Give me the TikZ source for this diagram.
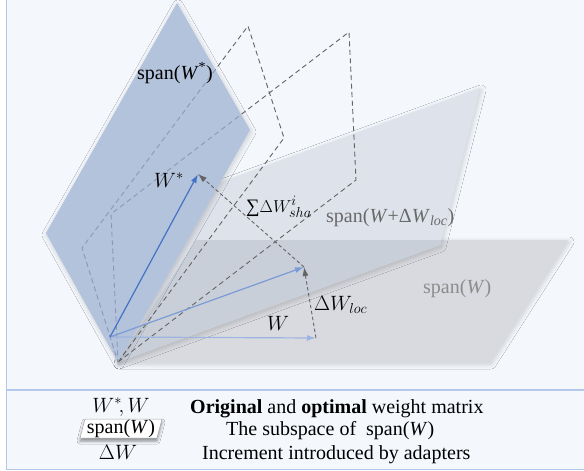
\documentclass[tikz,border=0pt]{standalone}
\usepackage{fontspec}
\setmainfont{Liberation Serif}
\newfontfamily\tnr{Liberation Serif}
\usetikzlibrary{arrows.meta,shadows.blur}
\definecolor{bgc}{RGB}{244,248,253}
\definecolor{framec}{RGB}{180,200,236}
\definecolor{bluep}{RGB}{180,195,220}
\definecolor{greyw}{RGB}{216,218,223}
\definecolor{greyl}{RGB}{222,226,234}
\definecolor{greyo}{RGB}{201,207,217}
\definecolor{dashc}{RGB}{100,100,100}
\definecolor{dashin}{RGB}{140,152,174}
\definecolor{vecA}{RGB}{68,114,196}
\definecolor{vecB}{RGB}{123,155,214}
\definecolor{vecC}{RGB}{157,181,224}
\definecolor{txtg}{RGB}{105,105,105}
\definecolor{txtl}{RGB}{140,140,140}
\begin{document}
\begin{tikzpicture}[x=1pt,y=-1pt,
  lbl/.style={inner sep=0pt, anchor=base west, font=\tnr\fontsize{20}{23}\selectfont},
  lblc/.style={inner sep=0pt, anchor=base, font=\tnr\fontsize{20}{23}\selectfont},
  mlbl/.style={inner sep=0pt, anchor=base west, font=\tnr\fontsize{21}{24}\selectfont},
  mlblc/.style={inner sep=0pt, anchor=base, font=\tnr\fontsize{20}{23}\selectfont},
  softshadow/.style={blur shadow={shadow xshift=1pt, shadow yshift=-2pt, shadow blur radius=5pt, shadow blur steps=8, shadow opacity=18}},
  dplane/.style={draw=dashc, dash pattern=on 5pt off 3.5pt, line width=0.9pt},
  vec/.style={line width=1.2pt, -{Latex[length=9pt,width=6pt]}},
  dvec/.style={draw=dashc, dash pattern=on 3.5pt off 2.5pt, line width=0.9pt, -{Latex[length=9pt,width=6pt]}}
]
\useasboundingbox (0,0) rectangle (584,471);
\fill[white] (0,0) rectangle (584,471);
\fill[bgc] (6.5,0) rectangle (584,469.5);
\draw[framec, line width=1.2pt] (6.5,0) -- (6.5,469.5) -- (584,469.5);
\draw[framec, line width=1.2pt] (6.5,390) -- (584,390);

% key points
\coordinate (O) at (118,362);
\coordinate (S) at (110,337);
\coordinate (A) at (198,174);
\coordinate (B) at (304,267);
\coordinate (C) at (316,338);

% span(W) plane
\fill[greyw, softshadow] (O) -- (196,240) -- (568,240) -- (490,362) -- cycle;
% span(W + dW) plane
\fill[greyl, softshadow] (O) -- (158,205) -- (480,88) -- (440,245) -- cycle;
\begin{scope}
  \clip (O) -- (196,240) -- (568,240) -- (490,362) -- cycle;
  \fill[greyo] (O) -- (158,205) -- (480,88) -- (440,245) -- cycle;
\end{scope}

% dashed planes
\draw[dplane] (O) -- (284,138) -- (248,26) -- (82,248) -- cycle;
\draw[dplane] (O) -- (356,180) -- (349,32) -- (111,214) -- cycle;

% blue plane span(W*)
\fill[bluep, softshadow] (177,3) -- (250,130) -- (O) -- (46,233) -- cycle;
\begin{scope}
  \clip (177,3) -- (250,130) -- (O) -- (46,233) -- cycle;
  \draw[dplane, draw=dashin] (O) -- (284,138) -- (248,26) -- (82,248) -- cycle;
  \draw[dplane, draw=dashin] (O) -- (356,180) -- (349,32) -- (111,214) -- cycle;
\end{scope}

% vectors
\draw[vec, vecC] (S) -- (C);
\draw[vec, vecB] (S) -- (B);
\draw[vec, vecA] (S) -- (A);
\draw[dvec] (C) -- (B);
\draw[dvec] (B) -- (A);

% labels
\node[lbl] (lspanWs) at (137,79) {span(\textit{W}\textsuperscript{*})};
\node[mlbl] (lWs) at (154,187) {$W^{*}$};
\node[lbl, font=\tnr\fontsize{19}{22}\selectfont] (lsha) at (246,212) {∑$\Delta W_{sha}^{i}$};
\node[lbl, text=txtg] (lspanWl) at (326,222) {span(\textit{W}+Δ\textit{W}\textsubscript{\textit{loc}})};
\node[mlbl] (lloc) at (314,310) {$\Delta W_{loc}$};
\node[mlbl] (lW) at (267,330) {$W$};
\node[lbl, text=txtl] (lspanW) at (423,293) {span(\textit{W})};

% legend
\node[mlblc] (k1) at (121,412) {$W^{*}\!,W$};
\node[lbl] (d1) at (190,413) {\textbf{Original} and \textbf{optimal} weight matrix};
\fill[white, draw=gray!70, line width=0.5pt, blur shadow={shadow xshift=0pt, shadow yshift=-3pt, shadow blur radius=3pt, shadow opacity=45}] (85,419) -- (162,419) -- (157,438) -- (80,438) -- cycle;
\node[lblc] (k2) at (121,433) {span(\textit{W})};
\node[lbl] (d2) at (226,435) {The subspace of~ span(\textit{W})};
\node[mlblc] (k3) at (118,459) {$\Delta W$};
\node[lbl] (d3) at (202,459) {Increment introduced by adapters};
\end{tikzpicture}
\end{document}
